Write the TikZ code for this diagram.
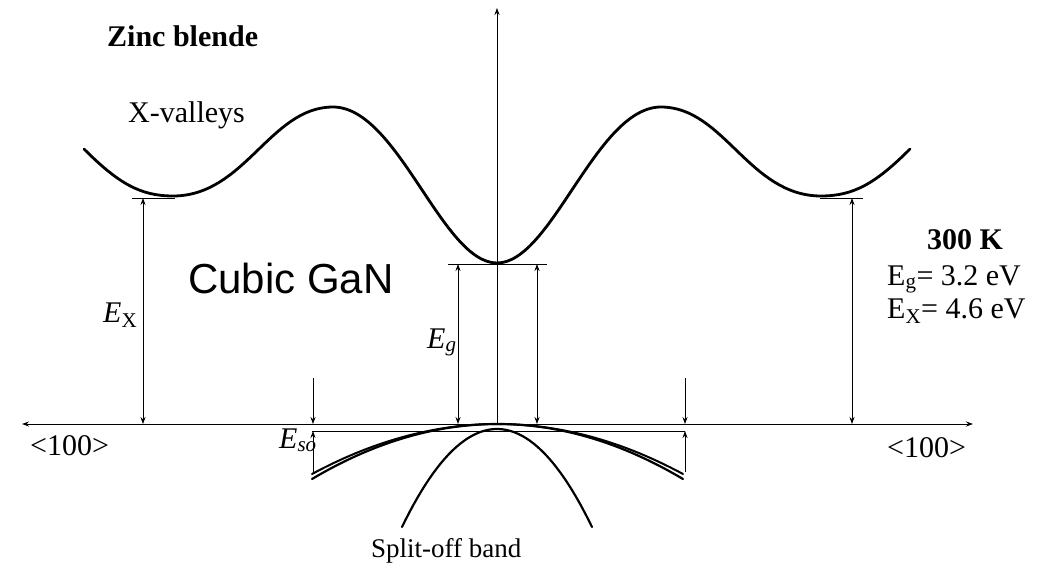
\documentclass[tikz,border=0pt]{standalone}
\usepackage{fontspec}
\setmainfont{Liberation Serif}
\newfontfamily\gansans{Liberation Sans}
\usetikzlibrary{arrows.meta}

\begin{document}
\begin{tikzpicture}[
  x=1pt,y=-1pt,
  >={Stealth[length=7pt,width=5pt]},
  band/.style={line width=2.6pt,line cap=round},
  gap/.style={<->,line width=0.8pt},
  level/.style={line width=0.9pt},
  every node/.style={inner sep=0pt,anchor=base west,font=\fontsize{30}{34}\selectfont}
]
  \useasboundingbox (0,0) rectangle (1044,572);

  % band edges
  \coordinate (Xl) at (143,198);
  \coordinate (Xr) at (852,198);
  \coordinate (G) at (497,264);
  \coordinate (V) at (497,424);
  \coordinate (SO) at (497,431);

  % axes
  \draw[<->,line width=1pt] (22,424) -- (973,424);
  \draw[->,line width=0.8pt] (V) -- (497,8);

  % conduction band
  \draw[band,line width=2.8pt] (84,149) .. controls (118,183) and (140,196) .. (173,196)
    .. controls (245,196) and (270,107) .. (333,107)
    .. controls (398,107) and (442,263) .. (497,263)
    .. controls (552,263) and (596,107) .. (661,107)
    .. controls (724,107) and (749,196) .. (821,196)
    .. controls (854,196) and (876,183) .. (910,149);

  % valence bands
  \draw[band,line width=2.2pt] plot[domain=312:683,samples=60] (\x,{424+55*((\x-497.5)/185.5)^2});
  \draw[band,line width=2pt] plot[domain=312:683,samples=60] (\x,{424+50*((\x-497.5)/185.5)^2});
  \draw[band,line width=2.2pt] plot[domain=402:592,samples=50] (\x,{429+98*((\x-497)/95)^2});

  % levels
  \draw[level] (132,198) -- (175,198);
  \draw[level] (820,198) -- (863,198);
  \draw[level] (448,264) -- (547,264);
  \draw[level] (312,431) -- (685,431);

  % gaps
  \draw[gap] (Xl) -- (Xl |- V);
  \draw[gap] (Xr) -- (Xr |- V);
  \draw[gap] (G -| 458,0) -- (V -| 458,0);
  \draw[gap] (G -| 537,0) -- (V -| 537,0);
  \foreach \sx in {313,685}{
    \draw[->,line width=0.8pt] (\sx,378) -- (V -| \sx,0);
    \draw[->,line width=0.8pt] (\sx,472) -- (SO -| \sx,0);
  }

  % labels
  \node[font=\fontsize{30}{34}\selectfont\bfseries] (title) at (107,47) {Zinc blende};
  \node (xval) at (128,123) {X-valleys};
  \node[font=\fontsize{42}{48}\selectfont\gansans] (mat) at (188,293) {Cubic GaN};
  \node (ex) at (103,322) {\textit{E}\textsubscript{X}};
  \node (eg) at (427,348) {\textit{E}\textsubscript{\textit{g}}};
  \node (eso) at (279,448) {\textit{E}\textsubscript{\textit{so}}};
  \node[font=\fontsize{30}{34}\selectfont\bfseries] (temp) at (927,250) {300 K};
  \node (egval) at (887,285) {E\textsubscript{g}= 3.2 eV};
  \node (exval) at (887,318) {E\textsubscript{X}= 4.6 eV};
  \node (dirl) at (30,455) {<100>};
  \node (dirr) at (887,457) {<100>};
  \node[font=\fontsize{27}{30}\selectfont] (sob) at (371,557) {Split-off band};
\end{tikzpicture}
\end{document}
